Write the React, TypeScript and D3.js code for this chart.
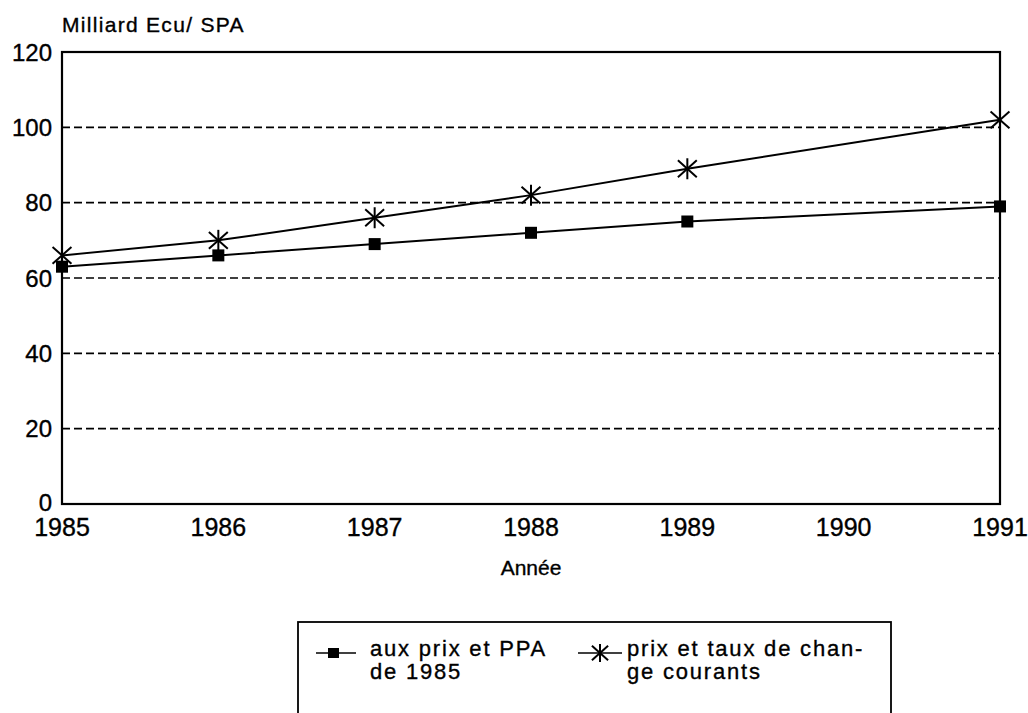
import React from "react";
import * as d3 from "d3";

const years = [1985, 1986, 1987, 1988, 1989, 1991];
const ppa1985 = [63, 66, 69, 72, 75, 79];
const courants = [66, 70, 76, 82, 89, 102];
const yTicks = [0, 20, 40, 60, 80, 100, 120];
const xTicks = [1985, 1986, 1987, 1988, 1989, 1990, 1991];
const yTitle = "Milliard Ecu/ SPA";
const xTitle = "Année";
const legend1 = ["aux prix et PPA", "de 1985"];
const legend2 = ["prix et taux de chan-", "ge courants"];

const W = 1028;
const H = 713;
const M = { left: 62, right: 1000, top: 52, bottom: 504 };
const FONT = "'Liberation Sans', Arial, Helvetica, sans-serif";
const TXT = { fill: "#000", stroke: "#000", strokeWidth: 0.35 };

function Asterisk({ x, y, r = 10 }: { x: number; y: number; r?: number }) {
  const dx = r * 0.9;
  const dy = r * 0.8;
  return (
    <g stroke="#000" strokeWidth={2}>
      <line x1={x} y1={y - r} x2={x} y2={y + r} />
      <line x1={x - dx} y1={y - dy} x2={x + dx} y2={y + dy} />
      <line x1={x - dx} y1={y + dy} x2={x + dx} y2={y - dy} />
    </g>
  );
}

export default function App() {
  const x = d3.scaleLinear().domain([1985, 1991]).range([M.left, M.right]);
  const y = d3.scaleLinear().domain([0, 120]).range([M.bottom, M.top]);
  const line = d3
    .line<number>()
    .x((_, i) => x(years[i]))
    .y((d) => y(d));

  return (
    <svg
      width={W}
      height={H}
      style={{ position: "absolute", left: 0, top: 0, background: "#fff" }}
      fontFamily={FONT}
    >
      <rect x={0} y={0} width={W} height={H} fill="#fff" />
      {/* y title */}
      <text x={62} y={32} fontSize={21} letterSpacing={1.3} {...TXT}>
        {yTitle}
      </text>
      {/* gridlines */}
      {yTicks
        .filter((t) => t > 0 && t < 120)
        .map((t) => (
          <line
            key={t}
            x1={M.left}
            x2={M.right}
            y1={y(t)}
            y2={y(t)}
            stroke="#000"
            strokeWidth={1.7}
            strokeDasharray="8,4"
          />
        ))}
      {/* frame */}
      <rect
        x={M.left}
        y={M.top}
        width={M.right - M.left}
        height={M.bottom - M.top}
        fill="none"
        stroke="#000"
        strokeWidth={2.2}
      />
      {/* y tick labels */}
      {yTicks.map((t) => (
        <text
          key={t}
          x={52}
          y={y(t)}
          dy={t === 0 ? "0.3em" : "0.36em"}
          textAnchor="end"
          fontSize={24}
          {...TXT}
        >
          {t}
        </text>
      ))}
      {/* x tick labels */}
      {xTicks.map((t) => (
        <text
          key={t}
          x={x(t)}
          y={536}
          textAnchor="middle"
          fontSize={25}
          {...TXT}
        >
          {t}
        </text>
      ))}
      <text x={(M.left + M.right) / 2} y={575} textAnchor="middle" fontSize={21} {...TXT}>
        {xTitle}
      </text>
      {/* series lines */}
      <path d={line(ppa1985) || ""} fill="none" stroke="#000" strokeWidth={2} />
      <path d={line(courants) || ""} fill="none" stroke="#000" strokeWidth={2} />
      {ppa1985.map((v, i) => (
        <rect key={i} x={x(years[i]) - 6} y={y(v) - 6} width={12} height={12} fill="#000" />
      ))}
      {courants.map((v, i) => (
        <Asterisk key={i} x={x(years[i])} y={y(v)} r={10.5} />
      ))}
      {/* legend */}
      <rect x={298} y={622} width={593} height={130} fill="#fff" stroke="#000" strokeWidth={1.8} />
      <line x1={316} x2={356} y1={653} y2={653} stroke="#000" strokeWidth={1.7} />
      <rect x={328} y={648} width={11} height={10} fill="#000" />
      <text fontSize={22} letterSpacing={1.8} {...TXT}>
        <tspan x={370} y={656}>{legend1[0]}</tspan>
        <tspan x={370} y={679}>{legend1[1]}</tspan>
      </text>
      <line x1={578} x2={622} y1={653} y2={653} stroke="#000" strokeWidth={1.7} />
      <Asterisk x={600} y={653} r={9} />
      <text fontSize={22} letterSpacing={1.8} {...TXT}>
        <tspan x={627} y={656}>{legend2[0]}</tspan>
        <tspan x={627} y={679}>{legend2[1]}</tspan>
      </text>
    </svg>
  );
}
